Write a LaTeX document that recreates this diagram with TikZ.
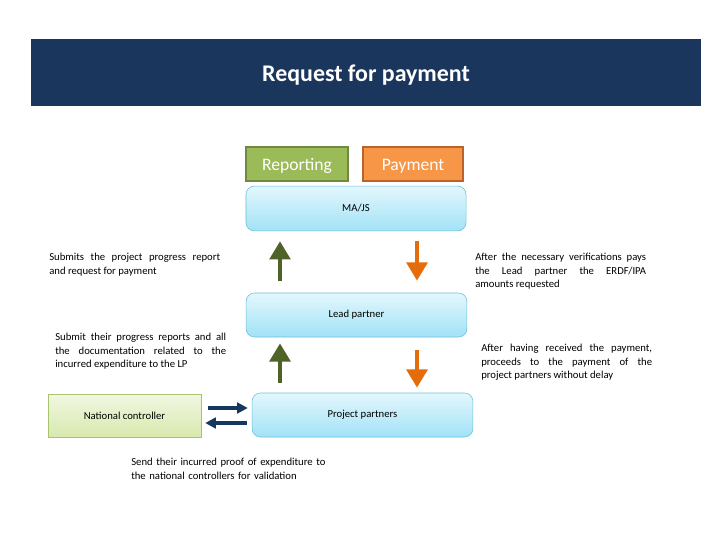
\documentclass[tikz,border=0pt]{standalone}
\usepackage{fontspec}
\setmainfont{Carlito}
\usetikzlibrary{positioning, arrows.meta, calc}
\tikzset{every node/.append style={execute at begin node={\hyphenpenalty=10000\exhyphenpenalty=10000\relax}}}
\definecolor{navy}{HTML}{1B365D}
\definecolor{repgreen}{HTML}{9BBB59}
\definecolor{repedge}{HTML}{71893F}
\definecolor{payorange}{HTML}{F79646}
\definecolor{payedge}{HTML}{B8642A}
\definecolor{cyantop}{HTML}{E3F7FD}
\definecolor{cyanbot}{HTML}{A2E2F6}
\definecolor{cyanedge}{HTML}{6CC0DA}
\definecolor{nctop}{HTML}{F1F7E2}
\definecolor{ncbot}{HTML}{D8E9AE}
\definecolor{ncedge}{HTML}{A9C46E}
\definecolor{uparrgreen}{HTML}{4F6228}
\definecolor{downarrorange}{HTML}{E46C0A}
\definecolor{sendblue}{HTML}{17375E}
\tikzset{
  px/.style={x=0.025cm, y=-0.025cm},
  tagbox/.style={draw, line width=1.4pt, text=white, font=\fontsize{12.5}{14}\selectfont, inner sep=0pt,
    text height=10pt, text depth=1pt},
  actorbox/.style={draw=cyanedge, rounded corners=6pt, top color=cyantop, bottom color=cyanbot,
    font=\fontsize{7.6}{9}\selectfont, inner sep=0pt},
  note/.style={font=\fontsize{7.6}{9.7}\selectfont, inner sep=0pt, anchor=north west,
    text width=4.27cm, align=justify},
  uparr/.style={draw=uparrgreen, line width=3.3pt, -{Triangle[width=14.5pt,length=13pt]}},
  downarr/.style={draw=downarrorange, line width=3.3pt, -{Triangle[width=14.5pt,length=13pt]}},
  sendarr/.style={draw=sendblue, line width=2.8pt, -{Triangle[width=7.5pt,length=7.5pt]}}
}
\begin{document}
\begin{tikzpicture}[px]
  \useasboundingbox[fill=white] (0,0) rectangle (720,540);
  % heading band
  \node[fill=navy, minimum width=16.75cm, minimum height=1.675cm, text=white, text height=14pt, text depth=1pt,
    font=\fontsize{17}{20}\selectfont\bfseries] (title) at (366,72.5) {Request for payment};
  % the two flows
  \node[tagbox, draw=repedge, fill=repgreen, minimum width=2.55cm, minimum height=0.85cm] (rep) at (297,164) {Reporting};
  \node[tagbox, draw=payedge, fill=payorange, minimum width=2.5cm, minimum height=0.85cm] (pay) at (413,164) {Payment};
  % actors
  \node[actorbox, minimum width=5.5cm, minimum height=1.12cm] (ma) at (356,208.5) {MA/JS};
  \node[actorbox, minimum width=5.52cm, minimum height=1.1cm] (lp) at (356.5,315) {Lead partner};
  \node[actorbox, minimum width=5.52cm, minimum height=1.1cm] (pp) at (362.5,415) {Project partners};
  \node[draw=ncedge, top color=nctop, bottom color=ncbot, minimum width=3.82cm, minimum height=1.07cm,
    font=\fontsize{7.6}{9}\selectfont, inner sep=0pt] (nc) at (124.5,415.5) {National controller};
  % explanations
  \node[note] (txtlpma) at (49,253) {Submits the project progress report\linebreak and request for payment};
  \node[note] (txtmalp) at (475,253) {After the necessary verifications pays\linebreak the Lead partner the ERDF/IPA\linebreak amounts requested};
  \node[note] (txtpplp) at (55,333) {Submit their progress reports and all\linebreak the documentation related to the\linebreak incurred expenditure to the LP};
  \node[note] (txtlppp) at (481,344) {After having received the payment,\linebreak proceeds to the payment of the\linebreak project partners without delay};
  \node[note, text width=5.2cm, align=left] (txtppnc) at (131,458) {Send their incurred proof of expenditure to\\the national controllers for validation};
  % arrows
  \coordinate (upx) at (280,0);
  \coordinate (downx) at (417,0);
  \draw[uparr] ($(lp.north -| upx)+(0,-12)$) -- ($(ma.south -| upx)+(0,10)$);
  \draw[downarr] ($(ma.south -| downx)+(0,10)$) -- ($(lp.north -| downx)+(0,-12)$);
  \draw[uparr] ($(pp.north -| upx)+(0,-10)$) -- ($(lp.south -| upx)+(0,6)$);
  \draw[downarr] ($(lp.south -| downx)+(0,13)$) -- ($(pp.north -| downx)+(0,-5)$);
  \draw[sendarr] ($(nc.east)+(7,-7.5)$) -- ($(pp.west)+(-4,-7)$);
  \draw[sendarr] ($(pp.west)+(-5,8)$) -- ($(nc.east)+(4,7.5)$);
\end{tikzpicture}
\end{document}
